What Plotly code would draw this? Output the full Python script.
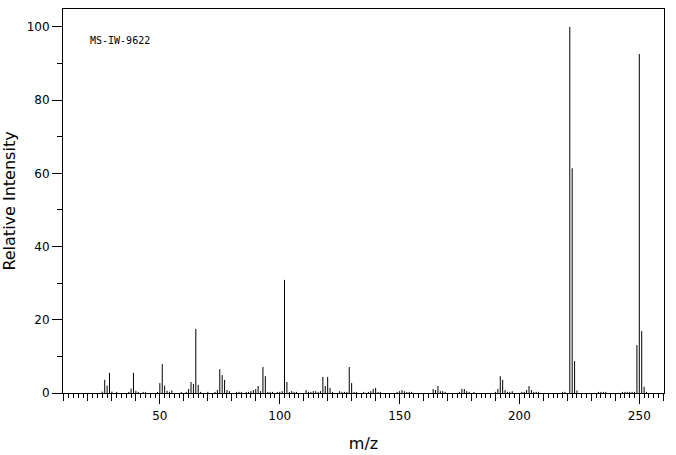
import plotly.graph_objects as go

mz = [26, 27, 28, 29, 30, 32, 37, 38, 39, 40, 41, 43, 44, 49, 50, 51, 52, 53, 54, 55, 59,
      61, 62, 63, 64, 65, 66, 67, 70, 73, 74, 75, 76, 77, 78, 79, 82, 83, 84, 86, 87, 88,
      89, 90, 91, 92, 93, 94, 95, 96, 97, 99, 100, 101, 102, 103, 104, 105, 106, 107, 111,
      112, 113, 114, 115, 116, 117, 118, 119, 120, 121, 122, 125, 126, 127, 128, 129, 130,
      131, 132, 135, 137, 138, 139, 140, 141, 142, 149, 150, 151, 152, 153, 154, 155, 164,
      165, 166, 167, 168, 169, 175, 176, 177, 178, 179, 181, 190, 191, 192, 193, 194, 195,
      196, 197, 201, 202, 203, 204, 205, 206, 207, 208, 218, 219, 221, 222, 223, 224, 233,
      234, 235, 236, 243, 244, 245, 246, 247, 248, 249, 250, 251, 252, 253]
intensity = [0.4, 3.6, 2.0, 5.5, 0.4, 0.3, 0.3, 1.2, 5.5, 0.6, 0.3, 0.3, 0.3, 0.3, 2.7, 7.9,
             2.0, 0.6, 0.3, 0.7, 0.3,
             0.3, 1.1, 3.0, 2.5, 17.5, 2.2, 0.3, 0.3, 0.3, 0.8, 6.5, 4.9, 3.6, 0.8, 0.5, 0.3,
             0.3, 0.3, 0.3, 0.3, 0.5,
             0.8, 1.1, 1.9, 0.5, 7.1, 4.6, 0.3, 0.3, 0.3, 0.3, 0.3, 0.5, 30.9, 3.0, 0.3, 0.5,
             0.3, 0.3, 0.8,
             0.3, 0.3, 0.5, 0.5, 0.3, 0.5, 4.4, 1.9, 4.4, 1.4, 0.3, 0.5, 0.3, 0.3, 0.3, 7.1,
             2.7,
             0.3, 0.3, 0.3, 0.3, 0.5, 1.1, 1.4, 0.3, 0.3, 0.3, 0.5, 0.8, 0.5, 0.3, 0.3, 0.3,
             1.1,
             0.8, 1.9, 0.5, 0.5, 0.3, 0.3, 1.1, 1.1, 0.5, 0.3, 0.3, 0.3, 1.1, 4.6, 3.6, 0.8,
             0.3,
             0.3, 0.5, 0.3, 0.3, 0.8, 1.9, 0.8, 0.3, 0.3, 0.3, 0.3, 0.3, 100.0, 61.4, 8.7, 0.7,
             0.3,
             0.3, 0.3, 0.3, 0.3, 0.3, 0.3, 0.3, 0.3, 0.3, 13.1, 92.6, 16.9, 1.7, 0.3]

x_major = [10, 20, 30, 40, 50, 60, 70, 80, 90, 100, 110, 120, 130, 140, 150, 160, 170, 180,
           190, 200, 210, 220, 230, 240, 250, 260]
x_labels = [str(v) if v % 50 == 0 else "" for v in x_major]
x_long = [50, 100, 150, 200, 250]
y_ticks = [0, 20, 40, 60, 80, 100]

xs, ys = [], []
for m, v in zip(mz, intensity):
    xs += [m, m, None]
    ys += [0, v, None]

fig = go.Figure()
fig.add_trace(go.Scatter(x=xs, y=ys, mode="lines", line=dict(color="black", width=1),
                         hoverinfo="skip", showlegend=False))
fig.add_trace(go.Scatter(x=[None], y=[None], xaxis="x2", showlegend=False))

font = "DejaVu Sans"
fig.update_layout(
    width=676, height=455,
    margin=dict(l=63, r=12, t=9, b=62),
    paper_bgcolor="white", plot_bgcolor="white",
    showlegend=False,
    xaxis=dict(range=[9.6, 260.3], tickvals=x_major, ticktext=x_labels, automargin=False,
               ticks="outside", ticklen=7, tickwidth=1, tickcolor="black",
               ticklabelstandoff=5,
               minor=dict(dtick=2, tick0=0, ticks="outside", ticklen=4, tickwidth=1,
                          tickcolor="black"),
               showline=True, linecolor="black", linewidth=1, mirror=True,
               showgrid=False, zeroline=False,
               tickfont=dict(family=font, size=12, color="black"),
               title=dict(text="m/z", font=dict(family=font, size=16, color="black"))),
    xaxis2=dict(range=[9.6, 260.3], overlaying="x", side="bottom", tickvals=x_long,
                automargin=False,
                showticklabels=False, ticks="outside", ticklen=10, tickwidth=1,
                tickcolor="black", showgrid=False, zeroline=False, showline=False),
    yaxis=dict(range=[0, 104.9], tickvals=y_ticks, automargin=False,
               ticks="outside", ticklen=10, tickwidth=1, tickcolor="black",
               minor=dict(dtick=10, tick0=0, ticks="outside", ticklen=5, tickwidth=1,
                          tickcolor="black"),
               showline=True, linecolor="black", linewidth=1, mirror=True,
               showgrid=False, zeroline=False,
               tickfont=dict(family=font, size=12, color="black"),
               title=dict(text="Relative Intensity",
                          font=dict(family=font, size=16, color="black"))),
    annotations=[dict(text="MS-IW-9622", xref="paper", yref="paper", x=0.041, y=0.9167,
                      xanchor="left", yanchor="middle", showarrow=False,
                      font=dict(family="DejaVu Sans Mono", size=10, color="black"))],
)

fig.write_html("out.html", config={"displayModeBar": False},
               post_script="document.body.style.margin='0';"
                           "document.body.style.overflow='hidden';")
